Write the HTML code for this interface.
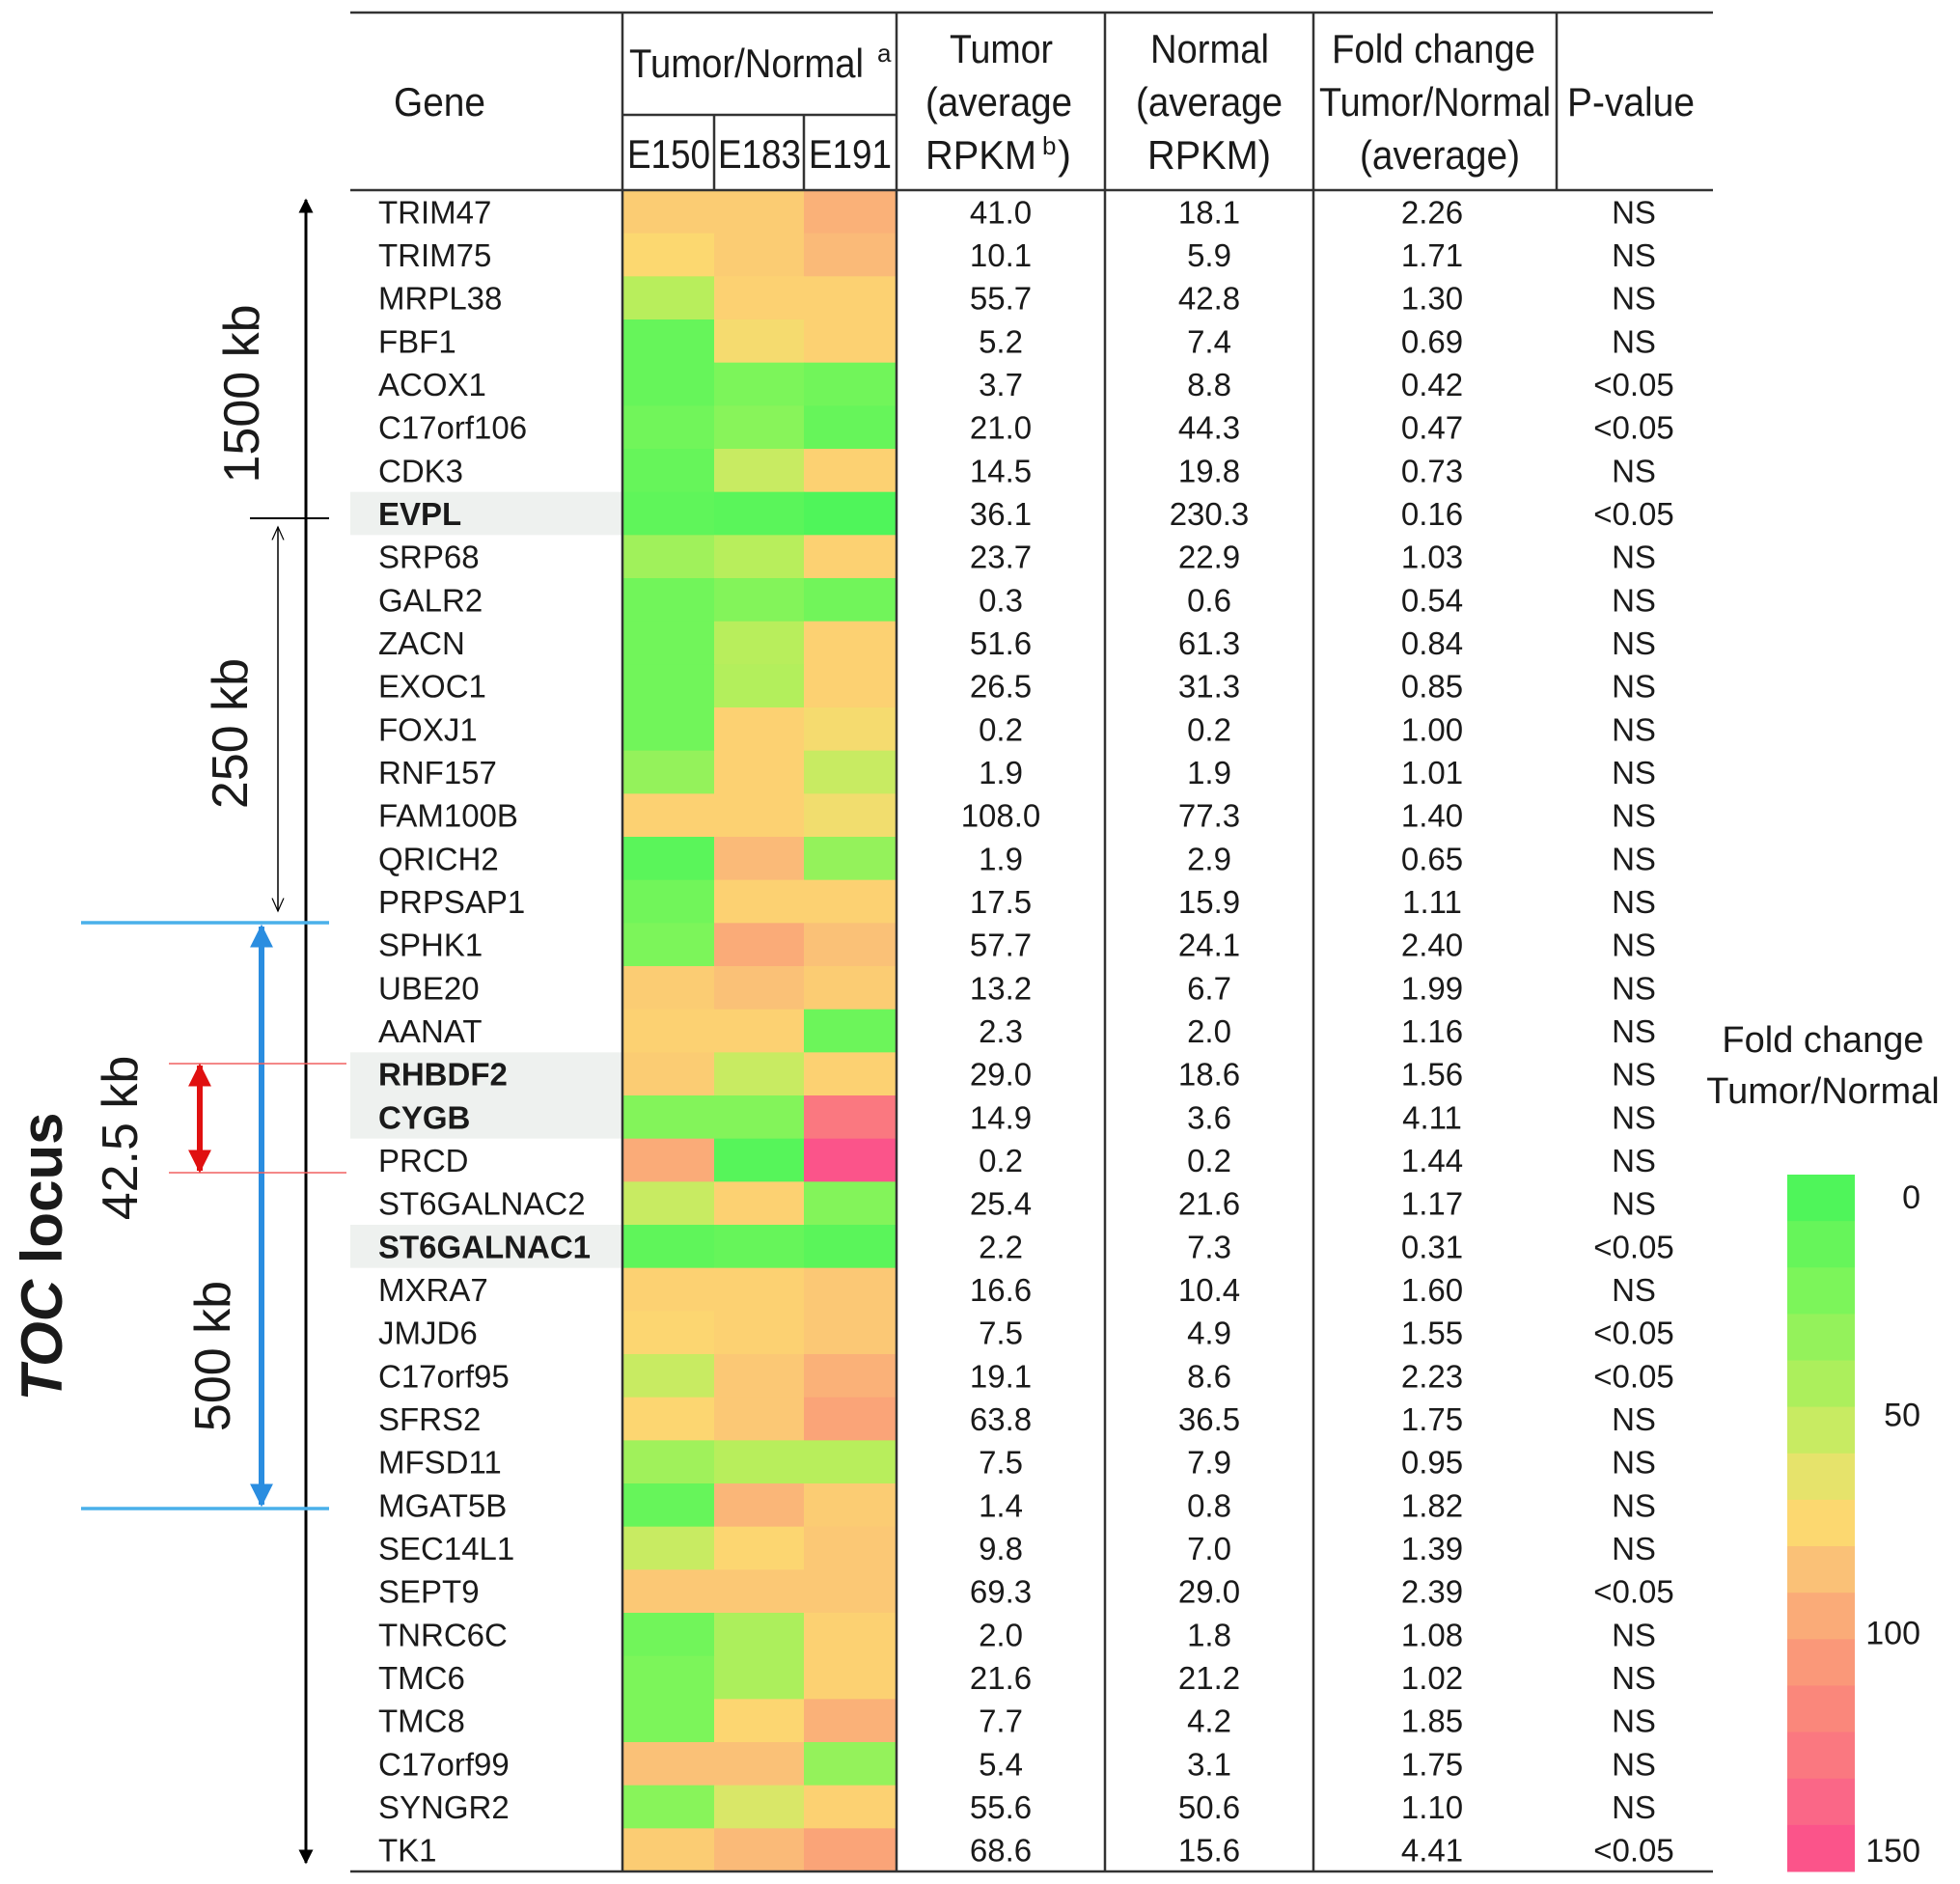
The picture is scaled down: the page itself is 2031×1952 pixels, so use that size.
<!DOCTYPE html>
<html><head><meta charset="utf-8">
<style>
html,body{margin:0;padding:0;background:#fff;}
svg{display:block;}
text{font-family:"Liberation Sans",Arial,sans-serif;fill:#1a1a1a;}
.hd{font-size:42px;}
.cell{font-size:33px;}
</style></head>
<body>
<svg id="chart" width="2031" height="1952" viewBox="0 0 2031 1952" xmlns="http://www.w3.org/2000/svg">
<defs>
<marker id="ab" viewBox="0 0 10 10" refX="9" refY="5" markerWidth="5" markerHeight="5" orient="auto-start-reverse"><path d="M0,0 L10,5 L0,10 z" fill="#000"/></marker>
<marker id="ao" viewBox="0 0 10 10" refX="9" refY="5" markerWidth="10" markerHeight="10" orient="auto-start-reverse"><path d="M0,1 L9,5 L0,9" fill="none" stroke="#000" stroke-width="0.8"/></marker>
<marker id="abl" viewBox="0 0 10 10" refX="9" refY="5" markerWidth="4" markerHeight="4" orient="auto-start-reverse"><path d="M0,0 L10,5 L0,10 z" fill="#2a8de0"/></marker>
<marker id="ar" viewBox="0 0 10 10" refX="9" refY="5" markerWidth="4" markerHeight="4" orient="auto-start-reverse"><path d="M0,0 L10,5 L0,10 z" fill="#e01010"/></marker>
</defs>
<g id="hl"></g>
<g id="heat"></g>
<g id="rows"></g>
<g id="lines" stroke="#333" stroke-width="2.5">
<line x1="363" y1="13" x2="1775" y2="13"/>
<line x1="363" y1="197" x2="1775" y2="197"/>
<line x1="363" y1="1939" x2="1775" y2="1939"/>
<line x1="645" y1="119" x2="929" y2="119"/>
<line x1="645" y1="13" x2="645" y2="1939"/>
<line x1="929" y1="13" x2="929" y2="1939"/>
<line x1="1145" y1="13" x2="1145" y2="1939"/>
<line x1="1361" y1="13" x2="1361" y2="1939"/>
<line x1="1613" y1="13" x2="1613" y2="197"/>
<line x1="740" y1="119" x2="740" y2="197"/>
<line x1="833" y1="119" x2="833" y2="197"/>
</g>
<g class="hd" lengthAdjust="spacingAndGlyphs">
<text x="408" y="120" textLength="95" lengthAdjust="spacingAndGlyphs">Gene</text>
<text x="652" y="80" textLength="243" lengthAdjust="spacingAndGlyphs">Tumor/Normal</text>
<text x="909" y="64" font-size="26">a</text>
<text x="650" y="174" textLength="86" lengthAdjust="spacingAndGlyphs">E150</text>
<text x="744" y="174" textLength="86" lengthAdjust="spacingAndGlyphs">E183</text>
<text x="838" y="174" textLength="86" lengthAdjust="spacingAndGlyphs">E191</text>
<text x="984" y="65" textLength="107" lengthAdjust="spacingAndGlyphs">Tumor</text>
<text x="959" y="120" textLength="152" lengthAdjust="spacingAndGlyphs">(average</text>
<text x="959" y="175" textLength="115" lengthAdjust="spacingAndGlyphs">RPKM</text>
<text x="1080" y="160" font-size="26">b</text>
<text x="1096" y="175">)</text>
<text x="1192" y="65" textLength="123" lengthAdjust="spacingAndGlyphs">Normal</text>
<text x="1177" y="120" textLength="152" lengthAdjust="spacingAndGlyphs">(average</text>
<text x="1189" y="175" textLength="128" lengthAdjust="spacingAndGlyphs">RPKM)</text>
<text x="1380" y="65" textLength="211" lengthAdjust="spacingAndGlyphs">Fold change</text>
<text x="1367" y="120" textLength="240" lengthAdjust="spacingAndGlyphs">Tumor/Normal</text>
<text x="1409" y="175" textLength="166" lengthAdjust="spacingAndGlyphs">(average)</text>
<text x="1624" y="120" textLength="132" lengthAdjust="spacingAndGlyphs">P-value</text>
</g>
<g>
<line x1="317" y1="1930" x2="317" y2="207" stroke="#000" stroke-width="3" marker-end="url(#ab)" marker-start="url(#ab)"/>
<line x1="259" y1="537" x2="341" y2="537" stroke="#000" stroke-width="2"/>
<text transform="translate(268,408) rotate(-90)" text-anchor="middle" font-size="52">1500 kb</text>
<line x1="288" y1="546" x2="288" y2="944" stroke="#000" stroke-width="1.5" marker-end="url(#ao)" marker-start="url(#ao)"/>
<text transform="translate(256,760) rotate(-90)" text-anchor="middle" font-size="52">250 kb</text>
<line x1="84" y1="956" x2="341" y2="956" stroke="#4ab0ea" stroke-width="3.5"/>
<line x1="84" y1="1563" x2="341" y2="1563" stroke="#4ab0ea" stroke-width="3.5"/>
<line x1="271" y1="960" x2="271" y2="1559" stroke="#2a8de0" stroke-width="6" marker-end="url(#abl)" marker-start="url(#abl)"/>
<text transform="translate(238,1405) rotate(-90)" text-anchor="middle" font-size="52">500 kb</text>
<line x1="175" y1="1102" x2="359" y2="1102" stroke="#f06060" stroke-width="1.5"/>
<line x1="175" y1="1215" x2="359" y2="1215" stroke="#f06060" stroke-width="1.5"/>
<line x1="207" y1="1104" x2="207" y2="1213" stroke="#e01010" stroke-width="6" marker-end="url(#ar)" marker-start="url(#ar)"/>
<text transform="translate(142,1179) rotate(-90)" text-anchor="middle" font-size="52">42.5 kb</text>
<text transform="translate(64,1302) rotate(-90)" text-anchor="middle" font-size="60" font-weight="bold"><tspan font-style="italic">TOC</tspan> locus</text>
</g>
<g>
<text text-anchor="middle" font-size="38"><tspan x="1889" y="1090">Fold change</tspan><tspan x="1889" y="1143">Tumor/Normal</tspan></text>
<g id="cbar"></g>
<g id="cticks" font-size="34" text-anchor="end"></g>
</g>
</svg>
<script>
const genes=["TRIM47","TRIM75","MRPL38","FBF1","ACOX1","C17orf106","CDK3","EVPL","SRP68","GALR2","ZACN","EXOC1","FOXJ1","RNF157","FAM100B","QRICH2","PRPSAP1","SPHK1","UBE20","AANAT","RHBDF2","CYGB","PRCD","ST6GALNAC2","ST6GALNAC1","MXRA7","JMJD6","C17orf95","SFRS2","MFSD11","MGAT5B","SEC14L1","SEPT9","TNRC6C","TMC6","TMC8","C17orf99","SYNGR2","TK1"];
const boldGenes=["EVPL","RHBDF2","CYGB","ST6GALNAC1"];
const samples=["E150","E183","E191"];
const e150=[80,75,50,15,15,20,15,12,40,20,20,20,20,35,78,10,20,25,80,78,80,28,95,55,12,78,76,55,76,40,15,55,82,20,25,25,85,30,80];
const e183=[80,80,78,72,25,30,55,10,50,28,50,48,78,78,78,88,78,95,85,78,55,28,8,78,15,78,78,82,82,50,90,76,82,45,45,76,85,60,88];
const e191=[92,88,78,78,20,15,78,5,78,20,78,78,72,55,70,35,78,85,80,18,78,125,145,28,10,82,82,92,98,50,80,82,82,78,78,92,35,78,98];
const tumor=["41.0","10.1","55.7","5.2","3.7","21.0","14.5","36.1","23.7","0.3","51.6","26.5","0.2","1.9","108.0","1.9","17.5","57.7","13.2","2.3","29.0","14.9","0.2","25.4","2.2","16.6","7.5","19.1","63.8","7.5","1.4","9.8","69.3","2.0","21.6","7.7","5.4","55.6","68.6"];
const normal=["18.1","5.9","42.8","7.4","8.8","44.3","19.8","230.3","22.9","0.6","61.3","31.3","0.2","1.9","77.3","2.9","15.9","24.1","6.7","2.0","18.6","3.6","0.2","21.6","7.3","10.4","4.9","8.6","36.5","7.9","0.8","7.0","29.0","1.8","21.2","4.2","3.1","50.6","15.6"];
const fold=["2.26","1.71","1.30","0.69","0.42","0.47","0.73","0.16","1.03","0.54","0.84","0.85","1.00","1.01","1.40","0.65","1.11","2.40","1.99","1.16","1.56","4.11","1.44","1.17","0.31","1.60","1.55","2.23","1.75","0.95","1.82","1.39","2.39","1.08","1.02","1.85","1.75","1.10","4.41"];
const pval=["NS","NS","NS","NS","<0.05","<0.05","NS","<0.05","NS","NS","NS","NS","NS","NS","NS","NS","NS","NS","NS","NS","NS","NS","NS","NS","<0.05","NS","<0.05","<0.05","NS","NS","NS","NS","<0.05","NS","NS","NS","NS","NS","<0.05"];
const legendTicks=[0,50,100,150];

const NS="http://www.w3.org/2000/svg";
const top0=197,rowH=(1939-197)/genes.length;
const heatX=[645,740,833],heatW=[95,93,96];
const stops=[[0,[68,245,90]],[25,[124,245,90]],[50,[184,238,92]],[62,[223,230,106]],[75,[252,216,112]],[87,[250,188,120]],[100,[250,160,120]],[112,[250,140,122]],[125,[250,120,128]],[137,[250,100,136]],[150,[252,74,140]]];
function color(v){v=Math.max(0,Math.min(150,v));for(let i=1;i<stops.length;i++){if(v<=stops[i][0]){const a=stops[i-1],b=stops[i],t=(v-a[0])/(b[0]-a[0]);const c=a[1].map((x,k)=>Math.round(x+(b[1][k]-x)*t));return `rgb(${c})`;}}return "rgb(252,74,140)";}
function yRow(i){return top0+i*rowH;}
function mk(tag,attrs,parent){const e=document.createElementNS(NS,tag);for(const k in attrs)e.setAttribute(k,attrs[k]);parent.appendChild(e);return e;}
const hl=document.getElementById('hl'),heat=document.getElementById('heat'),rows=document.getElementById('rows');
const series=[e150,e183,e191];
genes.forEach((g,i)=>{
  const y=yRow(i),cy=y+rowH/2+12;
  const bold=boldGenes.includes(g);
  if(bold){const r=mk('rect',{x:363,y:y,width:282,height:rowH,fill:'#eef1ef'},hl);
    
    }
  series.forEach((s,j)=>{const c=mk('rect',{x:heatX[j],y:y,width:heatW[j]+0.5,height:rowH+0.5,fill:color(s[i])},heat);
    
    });
  const t=mk('text',{x:392,y:cy,class:'cell','font-weight':bold?'bold':'normal'},rows);t.textContent=g;
  
  
  [[tumor,1037,'tumor'],[normal,1253,'normal'],[fold,1484,'fold'],[pval,1693,'pvalue']].forEach(([arr,x,n])=>{
    const e=mk('text',{x:x,y:cy,class:'cell','text-anchor':'middle'},rows);e.textContent=arr[i];
    
    });
});
const cbar=document.getElementById('cbar'),cticks=document.getElementById('cticks');
const cbTop=1217,cbBot=1939,nb=15,bh=(cbBot-cbTop)/nb;
for(let k=0;k<nb;k++){const b=mk('rect',{x:1852,y:cbTop+k*bh,width:70,height:bh+0.5,fill:color((k+0.5)*150/nb)},cbar);
  
  }
const tickY=v=>1240+(v/150)*(1917-1240);
legendTicks.forEach(v=>{const t=mk('text',{x:1990,y:tickY(v)+12},cticks);t.textContent=v;
  
  });
</script>
</body></html>
